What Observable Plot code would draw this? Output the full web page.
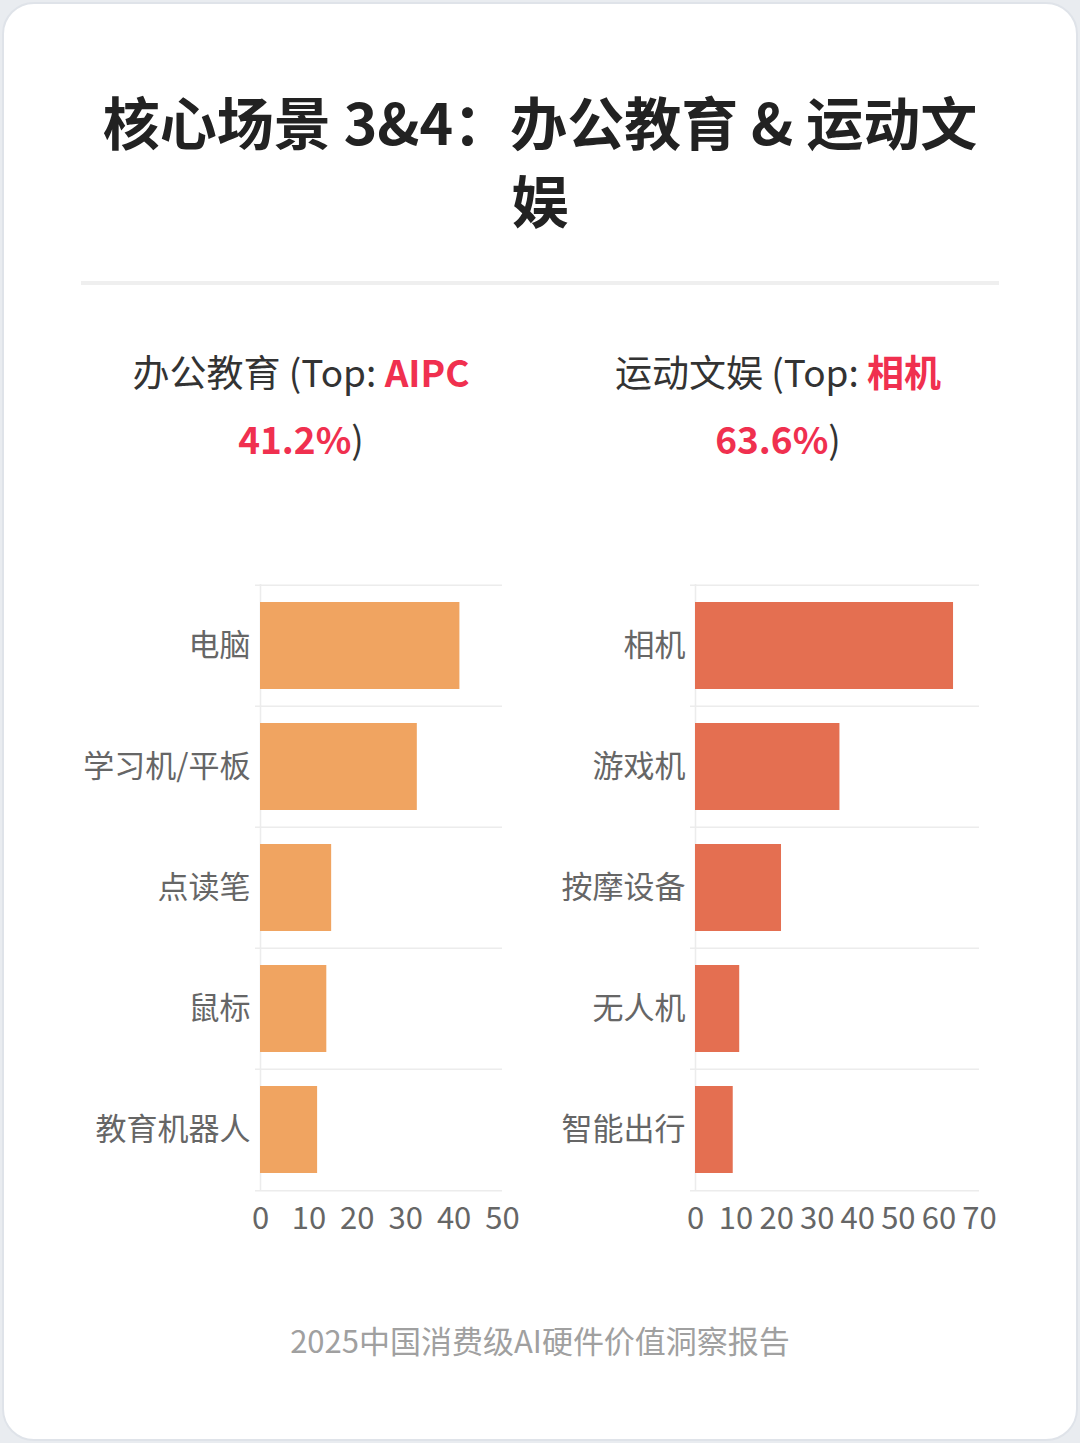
<!DOCTYPE html>
<html>
<head>
<meta charset="utf-8">
<script src="https://cdn.jsdelivr.net/npm/d3@7"></script>
<script src="https://cdn.jsdelivr.net/npm/@observablehq/plot@0.6"></script>
<style>
  html, body { margin: 0; padding: 0; }
  body { width: 1080px; height: 1443px; background: #e9ecf0; position: relative; overflow: hidden;
         font-family: "Noto Sans CJK SC", "Noto Sans", sans-serif; }
  #card { position: absolute; left: 2px; top: 2px; width: 1076px; height: 1439px; box-sizing: border-box;
          background: #fff; border: 2px solid #dfe3e9; border-radius: 32px; }
  #title { position: absolute; left: 90px; width: 900px; top: 81px; margin: 0; text-align: center;
           font-size: 57px; line-height: 78px; font-weight: 700; color: #222; }
  #divider { position: absolute; left: 81px; width: 918px; top: 281px; height: 4px; background: #efefef; }
  .sub { position: absolute; width: 440px; text-align: center; font-size: 37px; line-height: 67px; color: #333; white-space: nowrap; }
  .sub b { color: #f0304f; font-weight: 700; }
  .chart { position: absolute; top: 570px; width: 540px; }
  #footer { position: absolute; left: 0; width: 1080px; top: 1319px; text-align: center; font-size: 31px; line-height: 42px; color: #a0a0a0; }
</style>
</head>
<body>
<div id="card"></div>
<h1 id="title">核心场景 3&amp;4：办公教育 &amp; 运动文娱</h1>
<div id="divider"></div>
<div class="sub" style="left:81px; top:338px;">办公教育 (Top: <b>AIPC</b></div>
<div class="sub" style="left:81px; top:405px;"><b>41.2%</b>)</div>
<div class="sub" style="left:558px; top:338px;">运动文娱 (Top: <b>相机</b></div>
<div class="sub" style="left:558px; top:405px;"><b>63.6%</b>)</div>
<div class="chart" id="chartL" style="left:0px;"></div>
<div class="chart" id="chartR" style="left:540px;"></div>
<div id="footer">2025中国消费级AI硬件价值洞察报告</div>
<script>
const officeCategories = ["电脑", "学习机/平板", "点读笔", "鼠标", "教育机器人"];
const officeValues = [41.2, 32.4, 14.7, 13.7, 11.8];
const sportCategories = ["相机", "游戏机", "按摩设备", "无人机", "智能出行"];
const sportValues = [63.6, 35.6, 21.2, 10.9, 9.3];
const officeTicks = [0, 10, 20, 30, 40, 50];
const sportTicks = [0, 10, 20, 30, 40, 50, 60, 70];

function makeChart(cats, vals, ticks, color, mLeft, mRight) {
  const data = cats.map((c, i) => ({c, v: vals[i]}));
  const H = 671, mT = 14, mB = 50;
  const step = (H - mT - mB) / cats.length;
  return Plot.plot({
    width: 540, height: H, marginTop: mT, marginBottom: mB, marginLeft: mLeft, marginRight: mRight,
    style: {fontFamily: '"Noto Sans CJK SC", "Noto Sans", sans-serif', fontSize: "31px", color: "#666", background: "transparent", overflow: "visible"},
    x: {domain: [ticks[0], ticks[ticks.length - 1]], ticks: ticks, tickSize: 0, tickPadding: 15, label: null},
    y: {domain: cats, paddingInner: 0.28, paddingOuter: 0.14, tickSize: 0, tickPadding: 10, label: null},
    marks: [
      Plot.ruleY(cats, {y: d => d, dy: -step / 2, stroke: "#ececec", strokeWidth: 1.5, insetLeft: -5}),
      Plot.ruleY([cats[cats.length - 1]], {y: d => d, dy: step / 2, stroke: "#ececec", strokeWidth: 1.5, insetLeft: -5}),
      Plot.ruleX([0], {stroke: "#ececec", strokeWidth: 1.5}),
      Plot.barX(data, {y: "c", x: "v", fill: color})
    ]
  });
}

document.getElementById("chartL").appendChild(makeChart(officeCategories, officeValues, officeTicks, "#f0a461", 260, 38));
document.getElementById("chartR").appendChild(makeChart(sportCategories, sportValues, sportTicks, "#e46f51", 155, 101));
</script>
</body>
</html>
